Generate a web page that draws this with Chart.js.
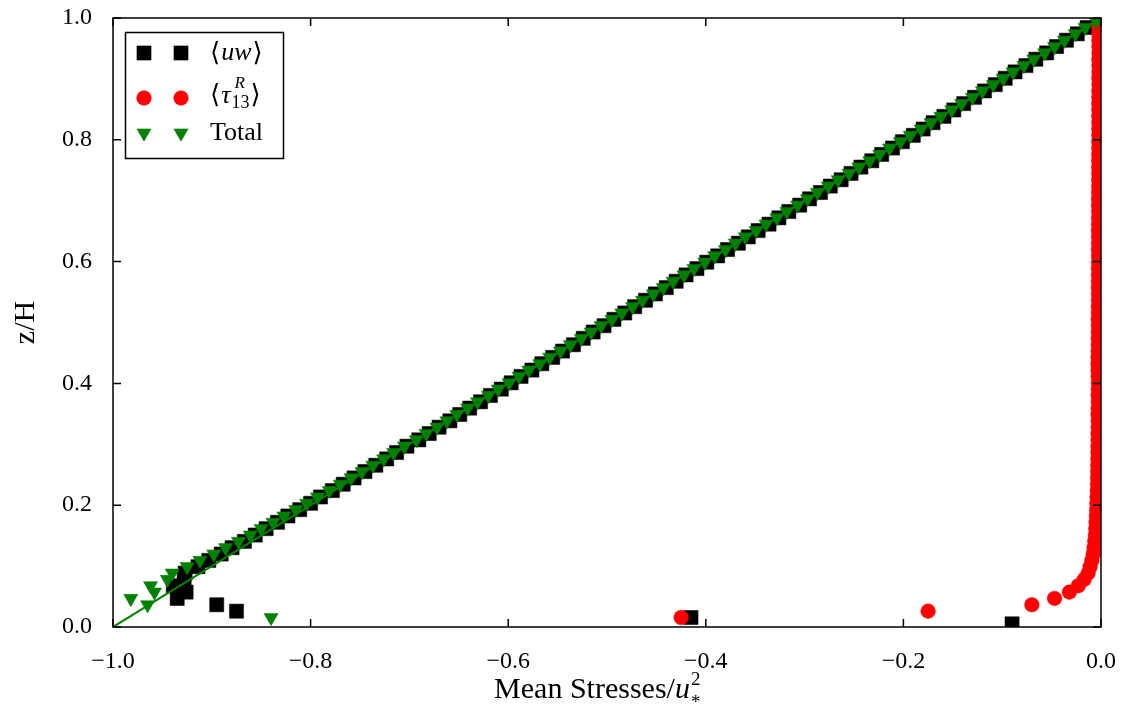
<!DOCTYPE html>
<html>
<head>
<meta charset="utf-8">
<title>Mean stresses</title>
<script src="https://cdn.jsdelivr.net/npm/chart.js@4.4.1/dist/chart.umd.min.js"></script>
<style>
  html, body { margin: 0; padding: 0; background: #fff; }
  canvas { display: block; }
</style>
</head>
<body>
<canvas id="stressChart" width="1127" height="719"></canvas>
<script>
(() => {
  'use strict'

  // z/H of the grid levels
  const zLevels = [
    0.0052, 0.0156, 0.0260, 0.0365, 0.0469, 0.0573, 0.0677, 0.0781, 0.0885, 0.0990,
    0.1094, 0.1198, 0.1302, 0.1406, 0.1510, 0.1615, 0.1719, 0.1823, 0.1927, 0.2031,
    0.2135, 0.2240, 0.2344, 0.2448, 0.2552, 0.2656, 0.2760, 0.2865, 0.2969, 0.3073,
    0.3177, 0.3281, 0.3385, 0.3490, 0.3594, 0.3698, 0.3802, 0.3906, 0.4010, 0.4115,
    0.4219, 0.4323, 0.4427, 0.4531, 0.4635, 0.4740, 0.4844, 0.4948, 0.5052, 0.5156,
    0.5260, 0.5365, 0.5469, 0.5573, 0.5677, 0.5781, 0.5885, 0.5990, 0.6094, 0.6198,
    0.6302, 0.6406, 0.6510, 0.6615, 0.6719, 0.6823, 0.6927, 0.7031, 0.7135, 0.7240,
    0.7344, 0.7448, 0.7552, 0.7656, 0.7760, 0.7865, 0.7969, 0.8073, 0.8177, 0.8281,
    0.8385, 0.8490, 0.8594, 0.8698, 0.8802, 0.8906, 0.9010, 0.9115, 0.9219, 0.9323,
    0.9427, 0.9531, 0.9635, 0.9740, 0.9844, 0.9948
  ]

  // <uw>
  const uwMean = [
    -0.090, -0.415, -0.875, -0.895, -0.935, -0.926, -0.939, -0.928, -0.927, -0.914,
    -0.903, -0.8905, -0.8795, -0.867, -0.856, -0.845, -0.8335, -0.823, -0.811, -0.800,
    -0.790, -0.778, -0.767, -0.756, -0.745, -0.734, -0.723, -0.713, -0.7025, -0.6905,
    -0.680, -0.670, -0.659, -0.649, -0.639, -0.628, -0.618, -0.607, -0.597, -0.587,
    -0.576, -0.566, -0.555, -0.545, -0.534, -0.524, -0.514, -0.503, -0.493, -0.482,
    -0.472, -0.461, -0.451, -0.440, -0.430, -0.420, -0.409, -0.399, -0.388, -0.378,
    -0.367, -0.357, -0.347, -0.336, -0.326, -0.316, -0.305, -0.295, -0.284, -0.274,
    -0.263, -0.253, -0.243, -0.232, -0.222, -0.211, -0.201, -0.190, -0.180, -0.170,
    -0.159, -0.149, -0.139, -0.128, -0.118, -0.107, -0.097, -0.087, -0.076, -0.066,
    -0.055, -0.045, -0.035, -0.024, -0.014, -0.003
  ]

  // <tau_13^R>
  const tauResolved = [
    null, -0.425, -0.175, -0.070, -0.047, -0.032, -0.023, -0.017, -0.013, -0.011,
    -0.0092, -0.0080, -0.0070, -0.0063, -0.0057, -0.0053, -0.0050, -0.0047, -0.0044, -0.0042,
    -0.0040, -0.0038, -0.0036, -0.0035, -0.0034, -0.0033, -0.0032, -0.0031, -0.0031, -0.0030,
    -0.0030, -0.0029, -0.0029, -0.0030, -0.0029, -0.0028, -0.0029, -0.0028, -0.0028, -0.0029,
    -0.0030, -0.0031, -0.0030, -0.0029, -0.0028, -0.0028, -0.0027, -0.0027, -0.0028, -0.0027,
    -0.0027, -0.0026, -0.0026, -0.0027, -0.0026, -0.0026, -0.0027, -0.0026, -0.0025, -0.0026,
    -0.0025, -0.0025, -0.0026, -0.0025, -0.0025, -0.0024, -0.0025, -0.0025, -0.0024, -0.0024,
    -0.0024, -0.0023, -0.0024, -0.0024, -0.0023, -0.0023, -0.0023, -0.0022, -0.0023, -0.0022,
    -0.0022, -0.0022, -0.0023, -0.0022, -0.0022, -0.0021, -0.0022, -0.0021, -0.0021, -0.0022,
    -0.0021, -0.0021, -0.0022, -0.0022, -0.0023, -0.0024
  ]

  // Total
  const totalStress = [
    null, -0.840, -1.050, -0.965, -0.982, -0.958, -0.962, -0.945, -0.940, -0.925,
    -0.912, -0.898, -0.886, -0.873, -0.861, -0.850, -0.838, -0.827, -0.815, -0.804,
    -0.793, -0.781, -0.770, -0.759, -0.748, -0.737, -0.726, -0.716, -0.705, -0.693,
    -0.683, -0.672, -0.662, -0.652, -0.641, -0.631, -0.620, -0.610, -0.599, -0.589,
    -0.579, -0.568, -0.558, -0.547, -0.537, -0.526, -0.516, -0.506, -0.495, -0.485,
    -0.474, -0.464, -0.453, -0.443, -0.433, -0.422, -0.412, -0.401, -0.391, -0.380,
    -0.370, -0.360, -0.349, -0.339, -0.328, -0.318, -0.307, -0.297, -0.287, -0.276,
    -0.266, -0.255, -0.245, -0.234, -0.224, -0.214, -0.203, -0.193, -0.182, -0.172,
    -0.162, -0.151, -0.141, -0.130, -0.120, -0.109, -0.099, -0.089, -0.078, -0.068,
    -0.057, -0.047, -0.037, -0.026, -0.016, -0.005
  ]

  // reference line
  const refLineX = [-1.0, 0.0]
  const refLineY = [0.0, 1.0]

  const xTickValues = [-1.0, -0.8, -0.6, -0.4, -0.2, 0.0]
  const yTickValues = [0.0, 0.2, 0.4, 0.6, 0.8, 1.0]

  const serif = '"Liberation Serif", "DejaVu Serif", serif'
  const bracketFont = '"Liberation Serif", "DejaVu Serif", "DejaVu Sans", serif'
  const titleSize = 30
  const xTitleLead = 'Mean Stresses/'

  const toPoints = (xs, ys) => ys.map((y, i) => ({ x: xs[i], y: y })).filter(p => p.x !== null)

  const fmtTick = (v) => (v < -1e-9 ? '\u2212' : '') + Math.abs(v).toFixed(1)

  // frame + inward ticks on all four sides
  const frameTicks = {
    id: 'frameTicks',
    afterDatasetsDraw(chart) {
      const { ctx, chartArea: a, scales } = chart
      ctx.save()
      ctx.strokeStyle = '#000'
      ctx.lineWidth = 1.5
      ctx.strokeRect(a.left, a.top, a.right - a.left, a.bottom - a.top)
      ctx.beginPath()
      scales.x.ticks.forEach(t => {
        const px = scales.x.getPixelForValue(t.value)
        ctx.moveTo(px, a.bottom); ctx.lineTo(px, a.bottom - 8)
        ctx.moveTo(px, a.top); ctx.lineTo(px, a.top + 8)
      })
      scales.y.ticks.forEach(t => {
        const py = scales.y.getPixelForValue(t.value)
        ctx.moveTo(a.left, py); ctx.lineTo(a.left + 8, py)
        ctx.moveTo(a.right, py); ctx.lineTo(a.right - 8, py)
      })
      ctx.stroke()
      ctx.restore()
    }
  }

  // italic u with ^2 and _* at the end of the x axis title
  const titleScript = {
    id: 'titleScript',
    afterDraw(chart) {
      const { ctx, scales } = chart
      const xs = scales.x
      const t = xs.options.title
      ctx.save()
      ctx.font = titleSize + 'px ' + serif
      const w = ctx.measureText(t.text).width
      const wl = ctx.measureText(xTitleLead).width
      const cx = (xs.left + xs.right) / 2
      const cy = xs.bottom - titleSize * 1.2 / 2 - t.padding.bottom
      let x = cx - w / 2 + wl
      ctx.fillStyle = '#000'
      ctx.textBaseline = 'middle'
      ctx.font = 'italic ' + titleSize + 'px ' + serif
      ctx.fillText('u', x, cy)
      x += ctx.measureText('u').width + 1
      ctx.font = '19px ' + serif
      ctx.fillText('2', x, cy - 10)
      ctx.fillText('*', x, cy + 13)
      ctx.restore()
    }
  }

  const drawMarker = (ctx, ds, x, y) => {
    ctx.fillStyle = ds.backgroundColor
    ctx.strokeStyle = ds.borderColor
    ctx.lineWidth = ds.borderWidth
    Chart.helpers.drawPoint(ctx, {
      pointStyle: ds.pointStyle,
      radius: ds.pointRadius,
      rotation: ds.pointRotation || 0,
      borderWidth: ds.borderWidth
    }, x, y)
  }

  // legend with two markers per entry
  const pairLegend = {
    id: 'pairLegend',
    afterDraw(chart) {
      const { ctx, chartArea: a } = chart
      const bx = a.left + 12.5
      const by = a.top + 14.5
      ctx.save()
      ctx.fillStyle = '#fff'
      ctx.fillRect(bx, by, 158, 126)
      ctx.strokeStyle = '#000'
      ctx.lineWidth = 1.5
      ctx.strokeRect(bx, by, 158, 126)

      const rows = [35, 80, 115]
      const entries = chart.data.datasets.filter(d => d.legendRow !== undefined)
      entries.forEach(ds => {
        const ry = a.top + rows[ds.legendRow]
        drawMarker(ctx, ds, a.left + 31, ry)
        drawMarker(ctx, ds, a.left + 68, ry)
      })

      ctx.fillStyle = '#000'
      ctx.textBaseline = 'alphabetic'
      let x = a.left + 97
      // <uw>
      let base = a.top + 42
      ctx.font = '26px ' + bracketFont
      ctx.fillText('\u27e8', x, base + 1)
      x += ctx.measureText('\u27e8').width + 1
      ctx.font = 'italic 26px ' + serif
      ctx.fillText('uw', x, base)
      x += ctx.measureText('uw').width + 1
      ctx.font = '26px ' + bracketFont
      ctx.fillText('\u27e9', x, base + 1)

      // <tau_13^R>
      x = a.left + 97
      base = a.top + 85
      ctx.font = '26px ' + bracketFont
      ctx.fillText('\u27e8', x, base)
      x += ctx.measureText('\u27e8').width + 1
      ctx.font = 'italic 26px ' + serif
      ctx.fillText('\u03c4', x, base)
      x += ctx.measureText('\u03c4').width + 1
      ctx.font = 'italic 17px ' + serif
      ctx.fillText('R', x + 3, base - 15)
      const wr = ctx.measureText('R').width + 3
      ctx.font = '18px ' + serif
      ctx.fillText('13', x, base + 5)
      const ws = ctx.measureText('13').width
      x += Math.max(wr, ws) + 1
      ctx.font = '26px ' + bracketFont
      ctx.fillText('\u27e9', x, base)

      // Total
      ctx.font = '26px ' + serif
      ctx.fillText('Total', a.left + 97, a.top + 122)
      ctx.restore()
    }
  }

  const ctx = document.getElementById('stressChart')
  // eslint-disable-next-line no-unused-vars
  const stressChart = new Chart(ctx, {
    type: 'scatter',
    data: {
      datasets: [
        {
          label: 'Total',
          data: toPoints(totalStress, zLevels),
          pointStyle: 'triangle',
          pointRotation: 180,
          pointRadius: 8.2,
          backgroundColor: '#008000',
          borderColor: '#008000',
          borderWidth: 0.5,
          clip: 0,
          order: 0,
          legendRow: 2
        },
        {
          label: 'reference',
          data: toPoints(refLineX, refLineY),
          showLine: true,
          pointRadius: 0,
          borderColor: '#008000',
          borderWidth: 2,
          clip: 0,
          order: 1
        },
        {
          label: '\u27e8\u03c4_13^R\u27e9',
          data: toPoints(tauResolved, zLevels),
          pointStyle: 'circle',
          pointRadius: 7.3,
          backgroundColor: '#ff0000',
          borderColor: '#ff0000',
          borderWidth: 0.5,
          clip: 0,
          order: 2,
          legendRow: 1
        },
        {
          label: '\u27e8uw\u27e9',
          data: toPoints(uwMean, zLevels),
          pointStyle: 'rect',
          pointRadius: 10,
          backgroundColor: '#000000',
          borderColor: '#000000',
          borderWidth: 0.5,
          clip: 0,
          order: 3,
          legendRow: 0
        }
      ]
    },
    options: {
      responsive: false,
      animation: false,
      events: [],
      devicePixelRatio: 1,
      layout: {
        padding: { left: 0, right: 26, top: 18, bottom: 0 }
      },
      plugins: {
        legend: { display: false },
        tooltip: { enabled: false }
      },
      scales: {
        x: {
          type: 'linear',
          min: -1,
          max: 0,
          afterBuildTicks: (s) => { s.ticks = xTickValues.map(v => ({ value: v })) },
          afterFit: (s) => {
            s.height = 92
            s.paddingLeft = 0
            s.paddingRight = 0
          },
          grid: { display: false, drawTicks: false },
          border: { display: false },
          ticks: {
            padding: 20,
            maxRotation: 0,
            autoSkip: false,
            color: '#000',
            font: { family: serif, size: 24 },
            callback: fmtTick
          },
          title: {
            display: true,
            text: xTitleLead + '\u2003\u2002',
            color: '#000',
            font: { family: serif, size: titleSize },
            padding: { top: 0, bottom: 11 }
          }
        },
        y: {
          type: 'linear',
          min: 0,
          max: 1,
          afterBuildTicks: (s) => { s.ticks = yTickValues.map(v => ({ value: v })) },
          afterFit: (s) => {
            s.width = 113
            s.paddingTop = 0
            s.paddingBottom = 0
          },
          grid: { display: false, drawTicks: false },
          border: { display: false },
          ticks: {
            padding: 21,
            autoSkip: false,
            color: '#000',
            font: { family: serif, size: 24 },
            callback: fmtTick
          },
          title: {
            display: true,
            text: 'z/H',
            color: '#000',
            font: { family: serif, size: titleSize },
            padding: { top: 8, bottom: 0 }
          }
        }
      }
    },
    plugins: [frameTicks, titleScript, pairLegend]
  })
})()
</script>
</body>
</html>
